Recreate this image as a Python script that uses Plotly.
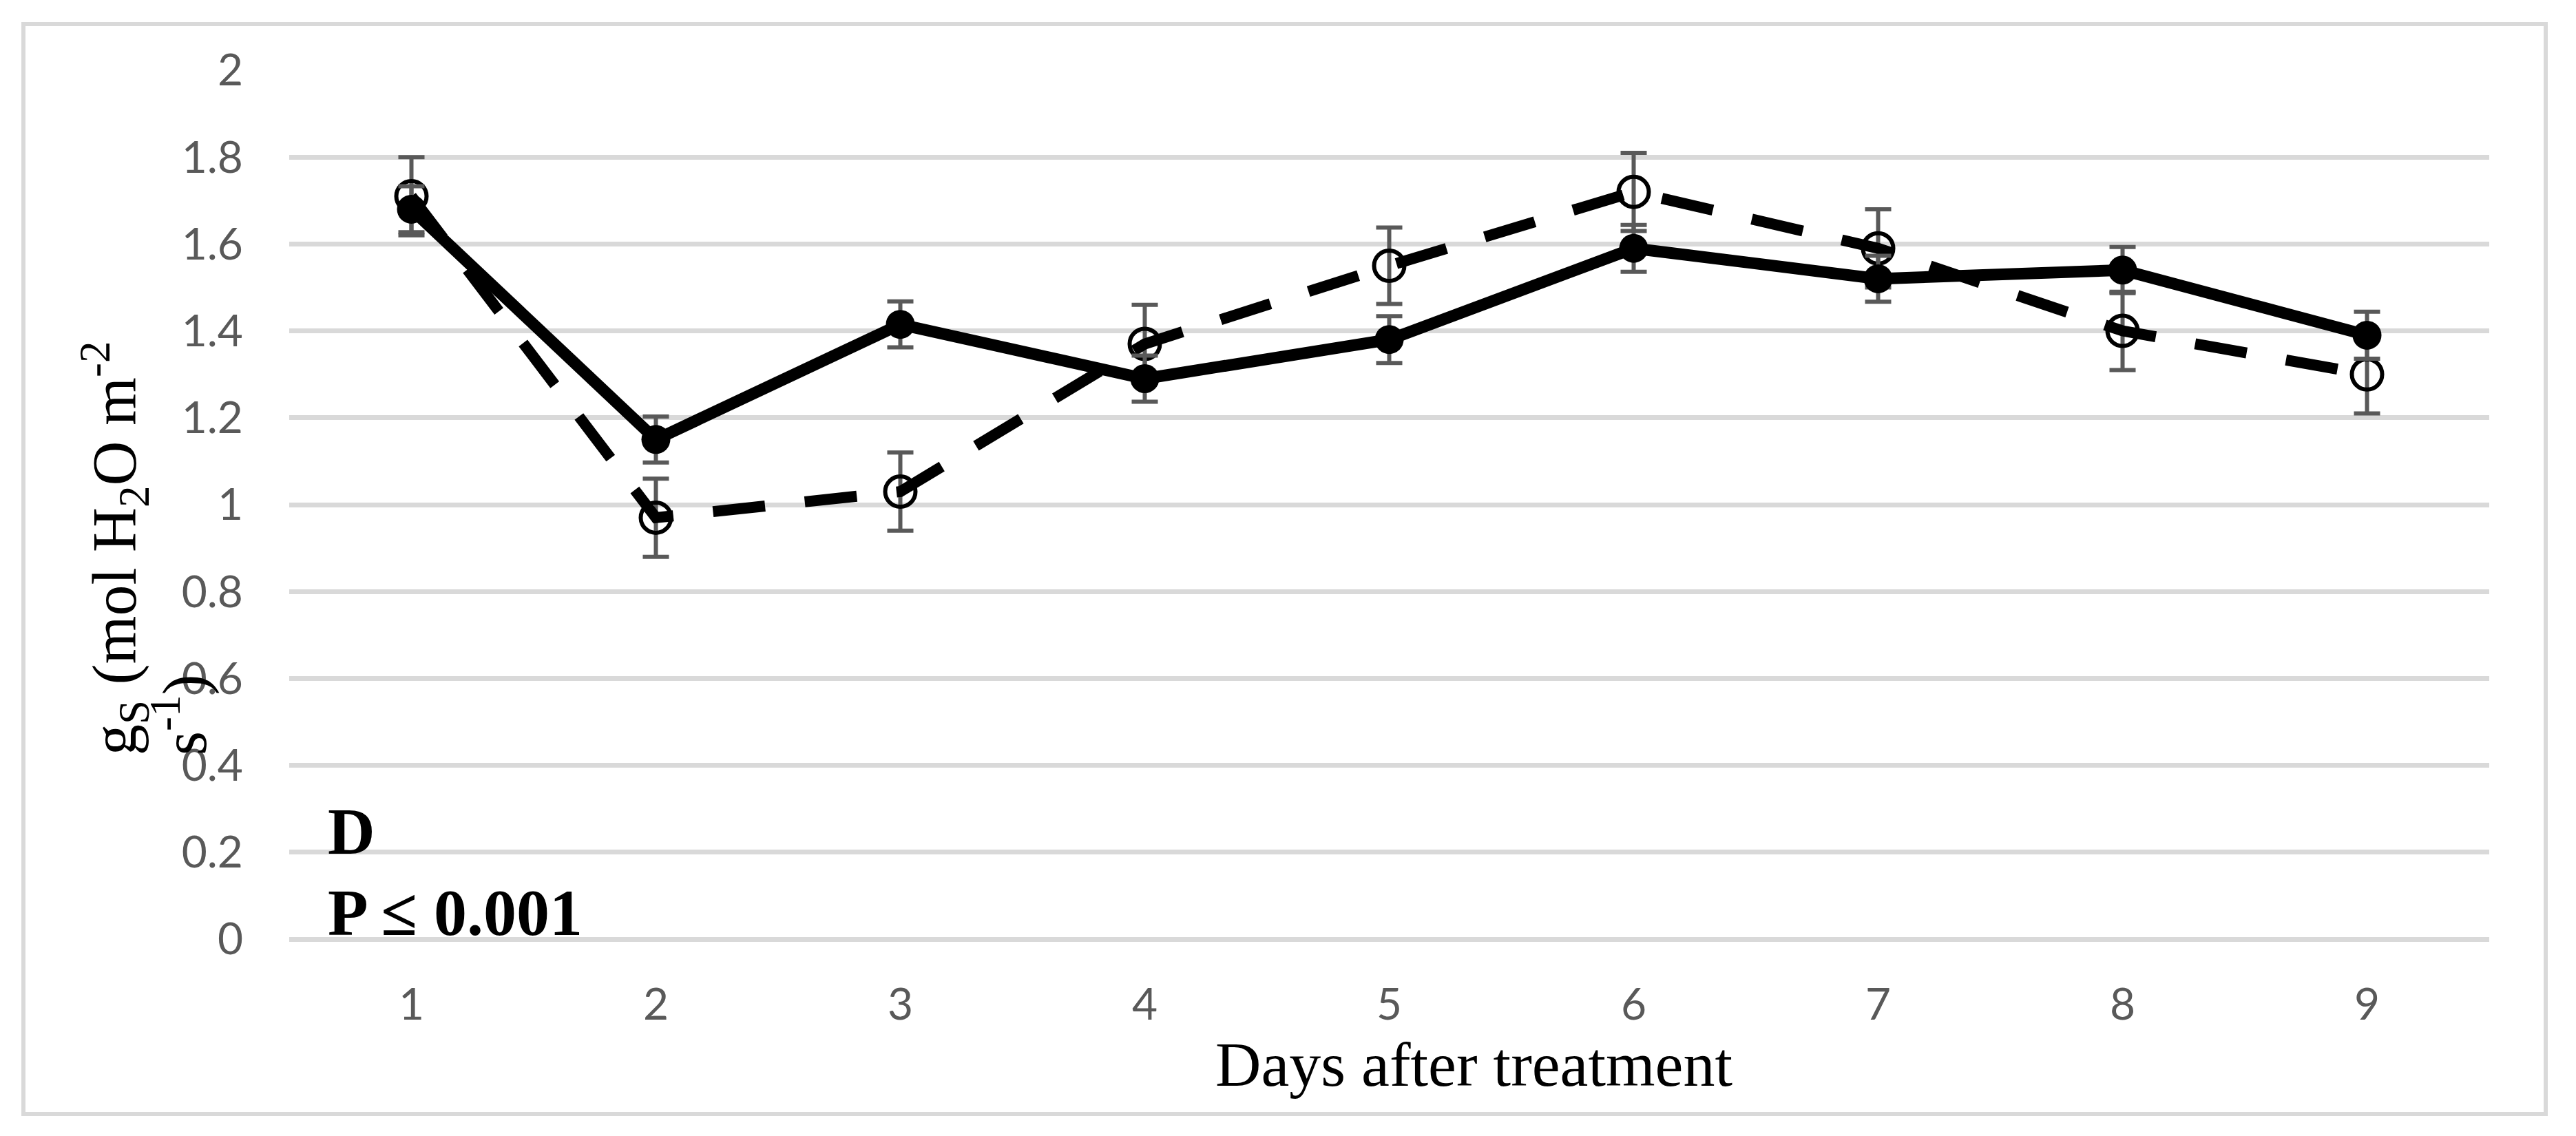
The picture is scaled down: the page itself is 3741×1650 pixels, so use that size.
import plotly.graph_objects as go

# ---------------- data ----------------
days = [1, 2, 3, 4, 5, 6, 7, 8, 9]
day_labels = ["1", "2", "3", "4", "5", "6", "7", "8", "9"]

gs_solid = [1.68, 1.15, 1.415, 1.29, 1.38, 1.59, 1.52, 1.54, 1.39]
err_solid = [0.053, 0.053, 0.053, 0.053, 0.054, 0.054, 0.053, 0.053, 0.054]

gs_dashed = [1.71, 0.97, 1.03, 1.37, 1.55, 1.72, 1.59, 1.40, 1.30]
err_dashed = [0.09, 0.09, 0.09, 0.09, 0.088, 0.09, 0.09, 0.09, 0.09]

y_ticks = [0, 0.2, 0.4, 0.6, 0.8, 1.0, 1.2, 1.4, 1.6, 1.8, 2.0]
y_tick_labels = ["0", "0.2", "0.4", "0.6", "0.8", "1", "1.2", "1.4", "1.6", "1.8", "2"]

x_title = "Days after treatment"
y_title_line1 = "g<sub>S</sub> (mol H<sub>2</sub>O m<sup>-2</sup>"
y_title_line2 = "s<sup>-1</sup>)"
panel_label = "<b>D</b>"
p_label = "<b>P ≤ 0.001</b>"

# ---------------- layout geometry ----------------
W, H = 3741, 1650
L, R, T, B = 420, 126, 102, 286
PW = W - L - R
PH = H - T - B


def px_x(px):
    return (px - L) / PW


def px_y(py):
    return (H - B - py) / PH


GRID = "#D9D9D9"
TICK = "#595959"
SERIF = "Liberation Serif, Times New Roman, serif"
SANS = "Lato, Liberation Sans, sans-serif"

fig = go.Figure()

# dashed series with open circles (drawn first, below)
fig.add_trace(go.Scatter(
    x=days, y=gs_dashed,
    mode="lines+markers",
    line=dict(color="black", width=16, dash="76px,58px"),
    marker=dict(symbol="circle-open", size=44, color="black",
                line=dict(width=6, color="black")),
    error_y=dict(type="data", array=err_dashed, visible=True,
                 color=TICK, thickness=6, width=19),
    showlegend=False, hoverinfo="skip",
))

# solid series with filled circles
fig.add_trace(go.Scatter(
    x=days, y=gs_solid,
    mode="lines+markers",
    line=dict(color="black", width=17),
    marker=dict(symbol="circle", size=42, color="black",
                line=dict(width=0)),
    error_y=dict(type="data", array=err_solid, visible=True,
                 color=TICK, thickness=6, width=19),
    showlegend=False, hoverinfo="skip",
))

fig.update_layout(
    width=W, height=H,
    margin=dict(l=L, r=R, t=T, b=B, pad=0),
    paper_bgcolor="white", plot_bgcolor="white",
    showlegend=False,
    xaxis=dict(
        range=[0.5, 9.5], tickvals=days, ticktext=day_labels,
        showgrid=False, zeroline=False, showline=False, ticks="",
        tickfont=dict(family=SANS, size=64, color=TICK),
        ticklabelstandoff=52,
        fixedrange=True,
    ),
    yaxis=dict(
        range=[0, 2.0], tickvals=y_ticks, ticktext=y_tick_labels,
        showgrid=True, gridcolor=GRID, gridwidth=7,
        zeroline=True, zerolinecolor=GRID, zerolinewidth=7,
        showline=False, ticks="",
        tickfont=dict(family=SANS, size=64, color=TICK),
        ticklabelstandoff=66,
        fixedrange=True,
    ),
    shapes=[dict(
        type="rect", xref="paper", yref="paper",
        x0=px_x(34), x1=px_x(3697), y0=px_y(1618), y1=px_y(35),
        line=dict(color=GRID, width=6), fillcolor="rgba(0,0,0,0)",
        layer="below",
    )],
    annotations=[
        dict(text=x_title, xref="paper", yref="paper",
             x=px_x(2140), y=px_y(1546), xanchor="center", yanchor="middle",
             showarrow=False, font=dict(family=SERIF, size=92, color="black")),
        dict(text=y_title_line1, xref="paper", yref="paper",
             x=px_x(166), y=px_y(1099), xanchor="center", yanchor="bottom",
             textangle=-90, showarrow=False,
             font=dict(family=SERIF, size=90, color="black")),
        dict(text=y_title_line2, xref="paper", yref="paper",
             x=px_x(262), y=px_y(1099), xanchor="center", yanchor="bottom",
             textangle=-90, showarrow=False,
             font=dict(family=SERIF, size=90, color="black")),
        dict(text=panel_label, xref="paper", yref="paper",
             x=px_x(474), y=px_y(1208), xanchor="left", yanchor="middle",
             showarrow=False, font=dict(family=SERIF, size=95, color="black")),
        dict(text=p_label, xref="paper", yref="paper",
             x=px_x(474), y=px_y(1325), xanchor="left", yanchor="middle",
             showarrow=False, font=dict(family=SERIF, size=96, color="black")),
    ],
)

fig.write_html(
    "out.html",
    config={"displayModeBar": False, "staticPlot": True},
    post_script="document.body.style.margin='0';document.body.style.overflow='hidden';",
)
